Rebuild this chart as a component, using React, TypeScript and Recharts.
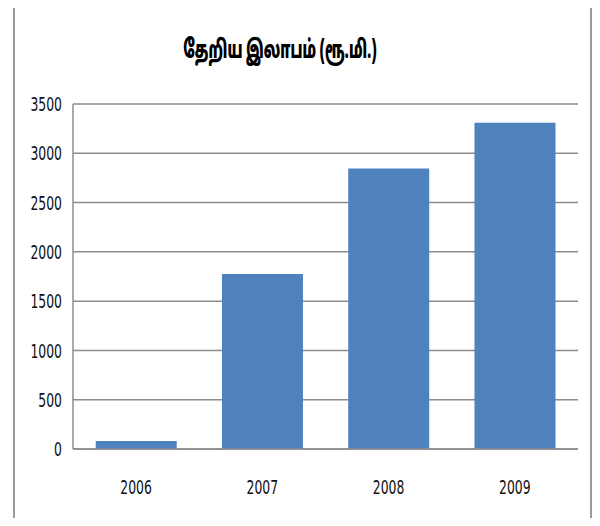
import { BarChart, Bar, XAxis, YAxis, CartesianGrid } from "recharts";

const years = ["2006", "2007", "2008", "2009"];
const profit = [80, 1775, 2845, 3310];
const yTicks = [0, 500, 1000, 1500, 2000, 2500, 3000, 3500];
const title = "தேறிய இலாபம் (ரூ.மி.)";

const data = years.map((year, i) => ({ year, profit: profit[i] }));

// narrow digits like the original chart font
const NarrowTick = (props: any) => {
  const { x, y, payload, textAnchor, dy } = props;
  return (
    <g transform={`translate(${x},${y}) scale(0.62,1)`}>
      <text
        x={0}
        y={0}
        dy={dy}
        textAnchor={textAnchor}
        fontSize={20}
        fill="#111"
        fontFamily="'DejaVu Sans', sans-serif"
      >
        {payload.value}
      </text>
    </g>
  );
};

export default function App() {
  return (
    <div style={{ position: "relative", width: 600, height: 526, margin: -8, background: "#fff", overflow: "hidden" }}>
      <div
        style={{
          position: "absolute",
          left: 13,
          top: 3,
          width: 579,
          height: 540,
          border: "2px solid #9a9a9a",
          boxSizing: "border-box",
        }}
      />
      <div
        style={{
          position: "absolute",
          left: 0,
          width: 560,
          top: 36,
          textAlign: "center",
          fontSize: 25,
          fontWeight: 900,
          fontFamily: "'Noto Sans Tamil', 'Lohit Tamil', 'Noto Sans', sans-serif",
          color: "#000",
          transform: "scaleX(0.56)",
          transformOrigin: "280px 0",
        }}
      >
        {title}
      </div>
      <div style={{ position: "absolute", left: 0, top: 0 }}>
        <BarChart
          width={600}
          height={526}
          data={data}
          margin={{ top: 104, right: 22, bottom: 37, left: 13 }}
          barCategoryGap="18%"
        >
          <CartesianGrid horizontal vertical={false} stroke="#8c8c8c" strokeWidth={1.5} />
          <XAxis
            dataKey="year"
            height={40}
            tick={(p: any) => <NarrowTick {...p} dy="0.71em" />}
            tickLine={false}
            axisLine={{ stroke: "#8c8c8c", strokeWidth: 1.5 }}
            tickSize={0}
            tickMargin={31}
          />
          <YAxis
            width={60}
            domain={[0, 3500]}
            ticks={yTicks}
            tick={(p: any) => <NarrowTick {...p} dy="0.355em" />}
            tickLine={false}
            axisLine={{ stroke: "#8c8c8c", strokeWidth: 1.5 }}
            tickSize={0}
            tickMargin={11}
          />
          <Bar dataKey="profit" fill="#4f81bd" isAnimationActive={false} />
        </BarChart>
      </div>
    </div>
  );
}
